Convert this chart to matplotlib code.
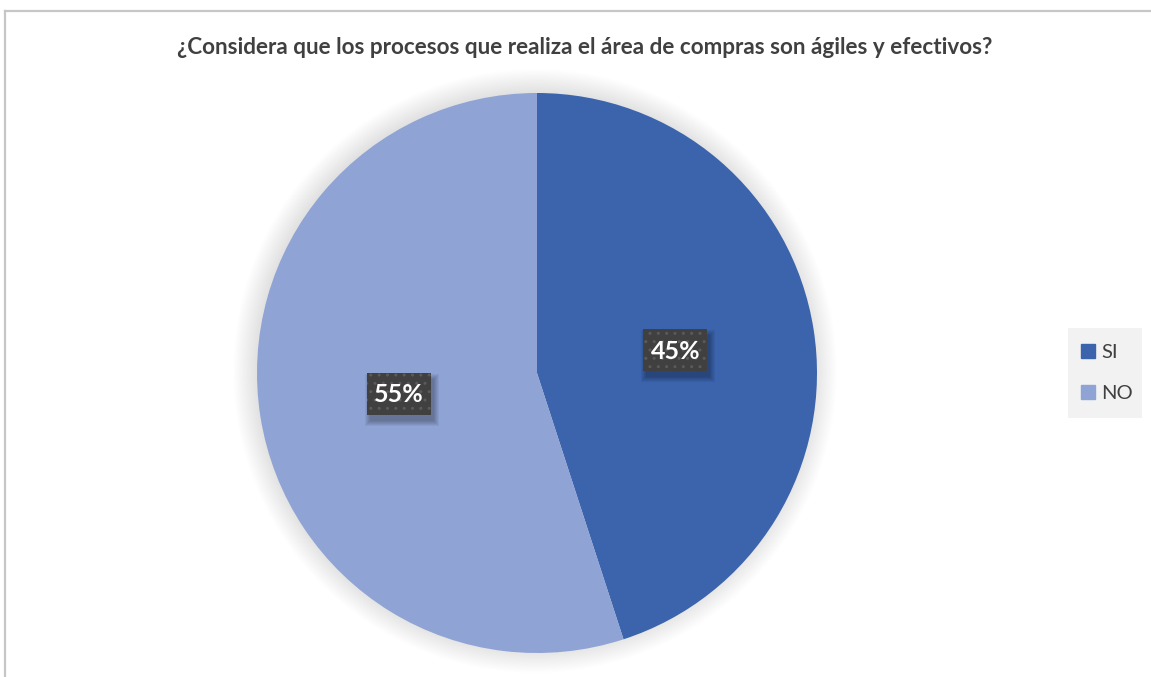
import numpy as np
import matplotlib
matplotlib.use("Agg")
from matplotlib import pyplot as plt
from matplotlib.patches import Circle, Rectangle
from matplotlib.lines import Line2D

plt.rcParams['font.family'] = ['Lato', 'DejaVu Sans']

# data
labels = ["SI", "NO"]
values = [45, 55]
colors = ["#3b64ad", "#8fa3d4"]
title = "¿Considera que los procesos que realiza el área de compras son ágiles y efectivos?"

W, H = 1151, 677
fig = plt.figure(figsize=(W/100, H/100), dpi=100)
ax = fig.add_axes([0, 0, 1, 1])

# chart frame (only left and top are visible)
fig.add_artist(Line2D([5/W, 5/W], [0, 1 - 11/H], color="#c6c6c6", lw=1.6))
fig.add_artist(Line2D([5/W, 1], [1 - 11/H, 1 - 11/H], color="#c6c6c6", lw=1.6))

cx, cy, R = 537, H - 373, 280

# soft glow behind the pie
for i in range(30):
    ax.add_patch(Circle((cx - 2, cy + 2), R + 22 - i * 0.8, color="#000000",
                        alpha=0.0045, lw=0, zorder=0))

wedges, texts, autotexts = ax.pie(values, colors=colors, startangle=90,
                                  counterclock=False, center=(cx, cy), radius=R,
                                  autopct=lambda p: "%d%%" % round(p),
                                  pctdistance=0.5, frame=True,
                                  wedgeprops=dict(linewidth=0))
ax.set_xlim(0, W)
ax.set_ylim(0, H)
ax.set_axis_off()

bw, bh = 64, 42
for t in autotexts:
    x, y = t.get_position()
    t.set_color("white")
    t.set_fontsize(18)
    t.set_fontweight("bold")
    t.set_zorder(6)
    # shadow
    for k in range(6):
        ax.add_patch(Rectangle((x - bw/2 + 3 - k, y - bh/2 - 5 - k), bw + 2*k, bh + 2*k,
                               color="#000000", alpha=0.05, lw=0, zorder=4))
    ax.add_patch(Rectangle((x - bw/2, y - bh/2 + 1), bw, bh, facecolor="#404040",
                           edgecolor="#5a5a5a", hatch="..", lw=0, zorder=5))

fig.text(585/W, 1 - 47/H, title, ha="center", va="center", fontsize=16.2,
         fontweight="bold", color="#404040")

# legend
ax.add_patch(Rectangle((1068, H - 418), 74, 90, color="#f2f2f2", lw=0, zorder=1))
handles = [Rectangle((0, 0), 1, 1, color=c) for c in colors]
leg = ax.legend(handles, labels, loc="center left", bbox_to_anchor=(1071/W, 1 - 373/H),
                bbox_transform=fig.transFigure, frameon=False, fontsize=14.5,
                handlelength=0.7, handleheight=0.7, handletextpad=0.3,
                labelspacing=1.2, borderpad=0)
for txt in leg.get_texts():
    txt.set_color("#404040")

fig.savefig("out.png", dpi=100)
